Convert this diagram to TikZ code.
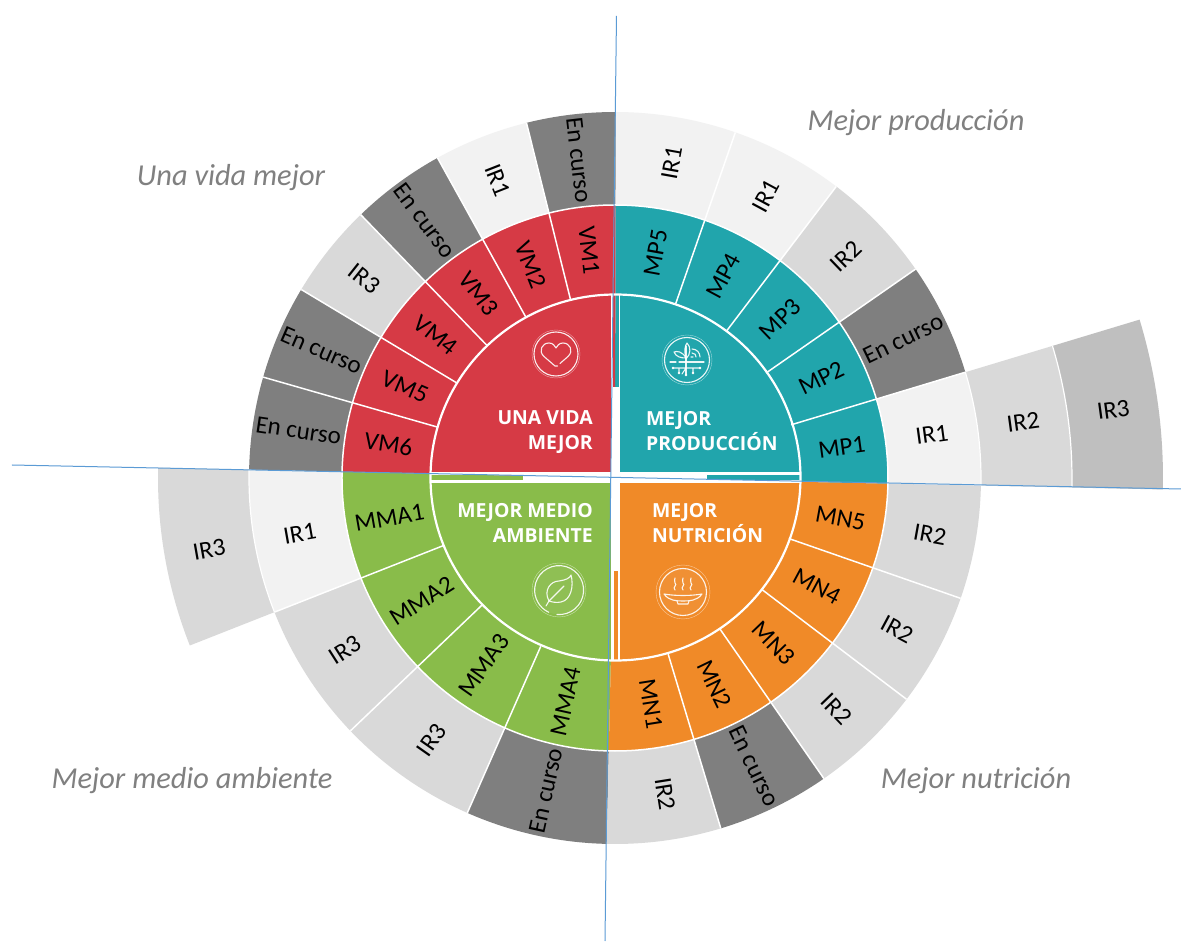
\documentclass[tikz,border=0pt]{standalone}
\usepackage{fontspec}
\setmainfont{Carlito}
\newfontfamily\hdfont{Open Sans}
\definecolor{cred}{HTML}{D63A45}
\definecolor{cteal}{HTML}{21A5AC}
\definecolor{cgreen}{HTML}{89BC4A}
\definecolor{corange}{HTML}{F08A28}
\definecolor{gA}{HTML}{F2F2F2}
\definecolor{gB}{HTML}{D9D9D9}
\definecolor{gC}{HTML}{BFBFBF}
\definecolor{gD}{HTML}{7F7F7F}
\definecolor{bluel}{HTML}{5B9BD5}
\definecolor{titlegrey}{HTML}{808080}
\tikzset{
  seglab/.style={font=\fontsize{25}{29}\selectfont, text=black, inner sep=0pt},
  titlelab/.style={font=\fontsize{30.4}{35}\selectfont\itshape, text=titlegrey, inner sep=0pt},
  headlab/.style={font=\fontsize{19.4}{25}\selectfont\hdfont\bfseries, text=white, inner sep=0pt},
  sepline/.style={draw=white, line width=1.5pt},
  icon/.style={draw=white, line width=1.1pt, line cap=round, line join=round, opacity=.9},
  iconthin/.style={draw=white, line width=.4pt, opacity=.55},
  axis/.style={draw=bluel, line width=1pt}
}
\newcommand{\seg}[5]{\fill[#5] (#1:#3pt) arc[start angle=#1,end angle=#2,radius=#3pt] -- (#2:#4pt) arc[start angle=#2,end angle=#1,radius=#4pt] -- cycle;}
\begin{document}
\begin{tikzpicture}[x=1pt,y=1pt]
\useasboundingbox (-615,-464) rectangle (566,478);
\fill[white] (-615,-464) rectangle (566,478);
% outer ring, upper right
\seg{70.8}{89.9}{270}{366}{gA}
\seg{52.8}{70.8}{270}{366}{gA}
\seg{34.8}{52.8}{270}{366}{gB}
\seg{16.8}{34.8}{270}{366}{gD}
\seg{-1.2}{16.8}{270}{366}{gA}
\seg{-1.2}{16.8}{366}{457}{gB}
\seg{-1.2}{16.8}{457}{548}{gC}
% outer ring, upper left
\seg{89.9}{104}{270}{366}{gD}
\seg{104}{119}{270}{366}{gA}
\seg{119}{134}{270}{366}{gD}
\seg{134}{149}{270}{366}{gB}
\seg{149}{164}{270}{366}{gD}
\seg{164}{178.7}{270}{366}{gD}
% outer ring, lower left
\seg{178.7}{201.5}{270}{366}{gA}
\seg{178.7}{201.5}{366}{457}{gB}
\seg{201.5}{223.7}{270}{366}{gB}
\seg{223.7}{246.2}{270}{366}{gB}
\seg{246.2}{268.7}{270}{366}{gD}
% outer ring, lower right
\seg{268.7}{286.8}{270}{366}{gB}
\seg{286.8}{304.8}{270}{366}{gD}
\seg{304.8}{322.8}{270}{366}{gB}
\seg{322.8}{340.8}{270}{366}{gB}
\seg{340.8}{358.8}{270}{366}{gB}
% coloured quadrants
\fill[cteal] (0,0) -- (-1.2:273pt) arc[start angle=-1.2,end angle=89.9,radius=273pt] -- cycle;
\fill[cred] (0,0) -- (89.9:273pt) arc[start angle=89.9,end angle=178.7,radius=273pt] -- cycle;
\fill[cgreen] (0,0) -- (178.7:273pt) arc[start angle=178.7,end angle=268.7,radius=273pt] -- cycle;
\fill[corange] (0,0) -- (268.7:273pt) arc[start angle=268.7,end angle=358.8,radius=273pt] -- cycle;
% separators
\foreach \a in {16.8,34.8,52.8,70.8,104,119,134,149,164,201.5,223.7,246.2,286.8,304.8,322.8,340.8}
  \draw[sepline] (\a:184pt) -- (\a:366pt);
\draw[white, line width=1.5pt] (0,0) circle[radius=273pt];
\draw[white, line width=1.2pt] (-1.2:366pt) arc[start angle=-1.2,end angle=16.8,radius=366pt];
\draw[white, line width=1.2pt] (-1.2:457pt) arc[start angle=-1.2,end angle=16.8,radius=457pt];
\draw[white, line width=1.2pt] (178.7:366pt) arc[start angle=178.7,end angle=201.5,radius=366pt];
% white outline of the centre and cross with slivers
\draw[white, line width=2.2pt] (0.5,0.5) ellipse[x radius=185pt,y radius=183pt];
\begin{scope}
\clip (0.5,0.5) ellipse[x radius=185pt,y radius=183pt];
\fill[white] (-4,-5.3) rectangle (5.5,6.3);
\fill[white] (-92,-5.3) rectangle (92,6.3);
\fill[white] (-4,-93) rectangle (5.5,91);
\fill[white] (-190,3) rectangle (190,6.3);
\fill[white] (-190,-5.3) rectangle (190,-2);
\fill[white] (-4,91) rectangle (-1.7,190);
\fill[white] (4,91) rectangle (5.5,190);
\fill[white] (-4,-190) rectangle (-1,-93);
\fill[white] (3.3,-190) rectangle (5.5,-93);
\end{scope}
% axis lines
\coordinate (vt) at (1.5,462);
\coordinate (vb) at (-10,-463);
\coordinate (hl) at (-603,13);
\coordinate (hr) at (566,-11);
\draw[axis] (vt) -- (vb);
\draw[axis] (hl) -- (hr);
% middle labels
\foreach \a/\t [count=\i] in {7.8/MP1,25.8/MP2,43.8/MP3,61.8/MP4,79.8/MP5}
  \node[seglab,rotate=\a] (mp\i) at (\a:229pt) {\t};
\foreach \a/\t [count=\i] in {96.5/VM1,111.5/VM2,126.5/VM3,141.5/VM4,156.5/VM5,171.5/VM6}
  \pgfmathsetmacro{\rr}{\a-180}
  \node[seglab,rotate=\rr] (vm\i) at (\a:229pt) {\t};
\foreach \a/\t [count=\i] in {190/MMA1,212.5/MMA2,235/MMA3,257.5/MMA4}
  \pgfmathsetmacro{\rr}{\a-180}
  \node[seglab,rotate=\rr] (mma\i) at (\a:229pt) {\t};
\foreach \a/\t [count=\i] in {-81/MN1,-64.2/MN2,-46.2/MN3,-28.2/MN4,-10.2/MN5}
  \node[seglab,rotate=\a] (mn\i) at (\a:229pt) {\t};
% outer labels
\foreach \a/\t [count=\i] in {7.8/IR1,25.8/En curso,43.8/IR2,61.8/IR1,79.8/IR1}
  \node[seglab,rotate=\a] (omp\i) at (\a:320pt) {\t};
\node[seglab,rotate=7.8] (omp6) at (7.8:412pt) {IR2};
\node[seglab,rotate=7.8] (omp7) at (7.8:503pt) {IR3};
\foreach \a/\t [count=\i] in {96.5/En curso,111.5/IR1,126.5/En curso,141.5/IR3,156.5/En curso,171.5/En curso}
  \pgfmathsetmacro{\rr}{\a-180}
  \node[seglab,rotate=\rr] (ovm\i) at (\a:320pt) {\t};
\foreach \a/\t [count=\i] in {190/IR1,212.5/IR3,235/IR3,257.5/En curso}
  \pgfmathsetmacro{\rr}{\a-180}
  \node[seglab,rotate=\rr] (omma\i) at (\a:320pt) {\t};
\node[seglab,rotate=10] (omma5) at (190:412pt) {IR3};
\foreach \a/\t [count=\i] in {-81/IR2,-64.2/En curso,-46.2/IR2,-28.2/IR2,-10.2/IR2}
  \node[seglab,rotate=\a] (omn\i) at (\a:320pt) {\t};
% titles
\node[titlelab] (t1) at (-384,300) {Una vida mejor};
\node[titlelab] (t2) at (301,355) {Mejor producción};
\node[titlelab] (t3) at (-423,-303) {Mejor medio ambiente};
\node[titlelab] (t4) at (361,-303) {Mejor nutrición};
% heads
\node[headlab,align=right,anchor=south east] (h1) at (-22,24) {UNA VIDA\\MEJOR};
\node[headlab,align=left,anchor=south west] (h2) at (31,27) {MEJOR\\PRODUCCIÓN};
\node[headlab,align=right,anchor=south east] (h3) at (-22,-65) {MEJOR MEDIO\\AMBIENTE};
\node[headlab,align=left,anchor=south west] (h4) at (37,-65) {MEJOR\\NUTRICIÓN};
% heart icon
\begin{scope}[shift={(-59,124)}]
\draw[iconthin] (0,0) circle[radius=24];
\draw[icon] (0,0) circle[radius=22];
\draw[icon] (1.5,-12) -- (-1,-12) -- (-12,-2.5) .. controls (-18,3) and (-14,11) .. (-7,11) .. controls (-3,11) and (-1,8) .. (0,6) .. controls (1,8) and (3,11) .. (7,11) .. controls (14,11) and (18,3) .. (12,-2.5) -- (4,-9.5);
\end{scope}
% plant icon
\begin{scope}[shift={(72,118)}]
\draw[iconthin] (0,0) circle[radius=25];
\draw[icon] (0,0) circle[radius=22.5];
\draw[icon] (-17,-2) -- (-11,-2) (-8,-2) -- (17,-2);
\draw[icon] (-1,14) -- (-1,-15);
\draw[icon] (-1,1) .. controls (-3,10) and (-2,14) .. (0,17) .. controls (4,13) and (4,6) .. (-1,1);
\draw[icon] (-1,2) .. controls (-5,9) and (-10,9) .. (-13,8) .. controls (-11,3) and (-6,2) .. (-1,2);
\draw[icon] (4,3) -- (6,3) (5,7) .. controls (8,7) and (9,5) .. (9,3) (5,11) .. controls (10,11) and (13,7) .. (13,3);
\draw[icon] (-14,-8) -- (13,-8) (-8,-8) -- (-8,-13) (6,-8) -- (6,-13) (-1,-8) -- (-5,-14);
\fill[white] (-14,-8) circle[radius=1.3] (13,-8) circle[radius=1.3] (-8,-13) circle[radius=1.3] (6,-13) circle[radius=1.3] (-1,-15) circle[radius=1.3];
\end{scope}
% leaf icon
\begin{scope}[shift={(-56,-112)}]
\fill[white,opacity=.06] (0,0) circle[radius=24.5];
\draw[iconthin] (0,0) circle[radius=27];
\draw[icon] (-2,-24.5) arc[start angle=-95,end angle=245,radius=24.5];
\draw[icon] (-10,-11) .. controls (-16,0) and (-8,9) .. (0,9) .. controls (7,10) and (11,12) .. (12,15) .. controls (15,4) and (12,-10) .. (2,-12) .. controls (-3,-13) and (-7,-12) .. (-10,-11);
\draw[icon] (-13,-16) -- (-10,-11) -- (5,4);
\end{scope}
% bowl icon
\begin{scope}[shift={(68,-114)}]
\fill[white,opacity=.06] (0,0) circle[radius=23.5];
\draw[iconthin] (0,0) circle[radius=27];
\draw[icon] (0,0) circle[radius=23.5];
\draw[icon] (-19,-2) .. controls (-8,-4) and (8,-4) .. (19,-2) .. controls (14,-9) and (6,-9) .. (0,-9) .. controls (-6,-9) and (-14,-9) .. (-19,-2);
\draw[icon] (-6,-9) -- (-5,-12) -- (5,-12) -- (6,-9);
\foreach \dx in {-8,0,8}
  \draw[icon,xshift=\dx] (0,2) .. controls (-3,5) and (3,7) .. (0,9) .. controls (-2,11) and (1,13) .. (0,14);
\end{scope}
\end{tikzpicture}
\end{document}
